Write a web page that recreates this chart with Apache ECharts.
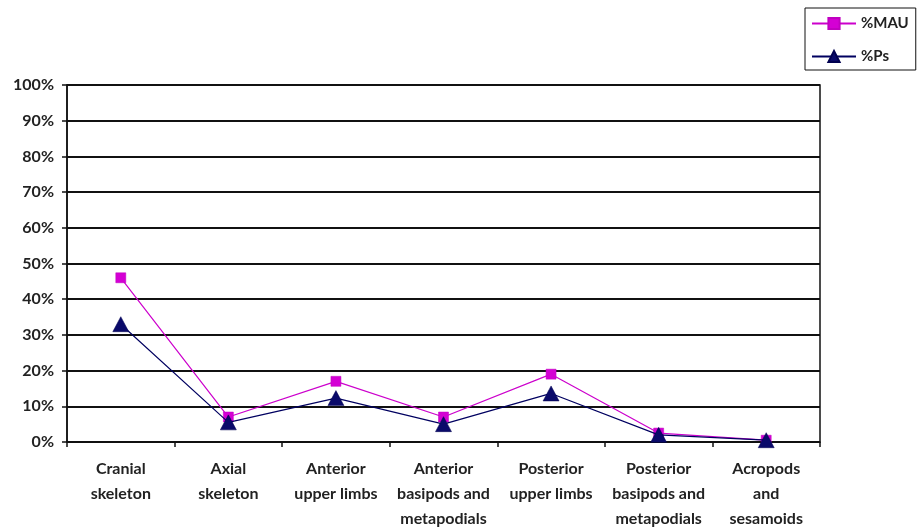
<!DOCTYPE html>
<html>
<head>
<meta charset="utf-8">
<script src="https://cdn.jsdelivr.net/npm/echarts@6/dist/echarts.min.js"></script>
<style>
  html, body { margin: 0; padding: 0; background: #fff; }
  #chart { width: 919px; height: 528px; }
</style>
</head>
<body>
<div id="chart"></div>
<script>
// Skeletal element groups along the x axis
const categories = [
  'Cranial\nskeleton',
  'Axial\nskeleton',
  'Anterior\nupper limbs',
  'Anterior\nbasipods and\nmetapodials',
  'Posterior\nupper limbs',
  'Posterior\nbasipods and\nmetapodials',
  'Acropods\nand\nsesamoids'
];

// Percent values per group
const mauValues = [46, 7, 17, 7, 19, 2.5, 0.5];
const psValues = [33, 5.5, 12.3, 5, 13.6, 2, 0.5];

// Y axis range and step (percent)
const yMin = 0;
const yMax = 100;
const yStep = 10;

const FONT = 'Lato';
const chart = echarts.init(document.getElementById('chart'), null, { renderer: 'canvas' });

chart.setOption({
  backgroundColor: '#ffffff',
  animation: false,
  grid: {
    left: 67, right: 99, top: 85, bottom: 86,
    containLabel: false,
    outerBoundsMode: 'none',
    show: true, borderColor: '#111', borderWidth: 1.5
  },
  legend: {
    orient: 'vertical',
    left: 805, top: 8,
    padding: [8, 7, 6, 6],
    itemGap: 18,
    itemWidth: 44,
    itemHeight: 14,
    borderColor: '#111',
    borderWidth: 1,
    backgroundColor: '#fff',
    textStyle: { fontFamily: FONT, fontWeight: 'bold', fontSize: 15, color: '#222' },
    data: ['%MAU', '%Ps']
  },
  xAxis: {
    type: 'category',
    data: categories,
    boundaryGap: true,
    axisLine: { lineStyle: { color: '#111', width: 1.5 } },
    axisTick: { show: true, length: 5, interval: 0, lineStyle: { color: '#111', width: 1.5 } },
    axisLabel: {
      interval: 0, margin: 14,
      fontFamily: FONT, fontWeight: 'bold', fontSize: 16, color: '#222',
      lineHeight: 25, align: 'center'
    },
    splitLine: { show: false }
  },
  yAxis: {
    type: 'value',
    min: yMin, max: yMax, interval: yStep,
    axisLine: { show: true, lineStyle: { color: '#111', width: 1.5 } },
    axisTick: { show: true, length: 5, lineStyle: { color: '#111', width: 1.5 } },
    axisLabel: {
      margin: 13,
      fontFamily: FONT, fontWeight: 'bold', fontSize: 16, color: '#222',
      formatter: v => v + '%'
    },
    splitLine: { show: true, lineStyle: { color: '#111', width: 2 } }
  },
  series: [
    {
      name: '%MAU',
      type: 'line',
      data: mauValues,
      symbol: 'rect',
      symbolSize: 10,
      z: 3,
      lineStyle: { color: '#cc00cc', width: 1.2 },
      itemStyle: { color: '#d400d4', borderColor: '#c000c0', borderWidth: 0.5 }
    },
    {
      name: '%Ps',
      type: 'line',
      data: psValues,
      symbol: 'triangle',
      symbolSize: [16, 15],
      z: 4,
      lineStyle: { color: '#000060', width: 1.2 },
      itemStyle: { color: '#0a0a6a', borderColor: '#000050', borderWidth: 0.5 }
    }
  ]
});
</script>
</body>
</html>
